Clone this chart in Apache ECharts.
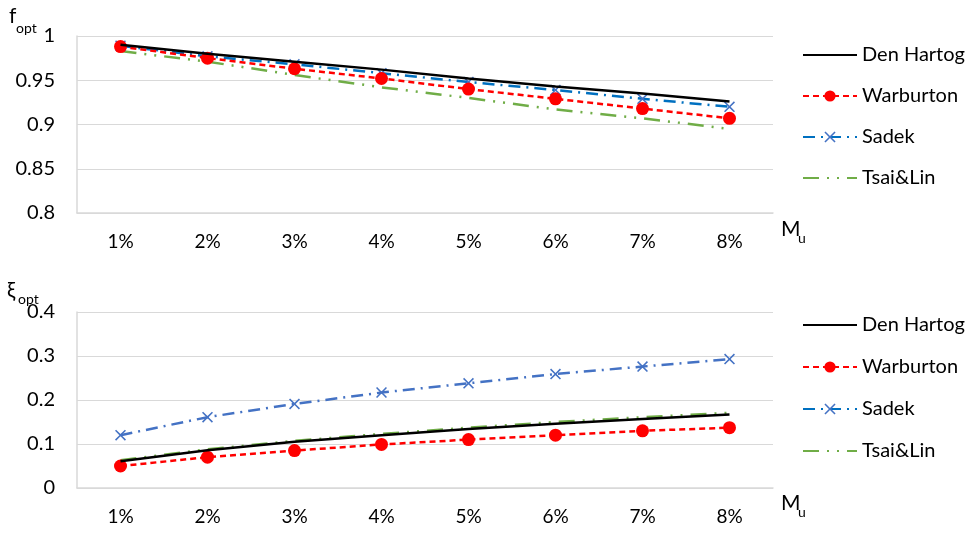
<!DOCTYPE html>
<html><head><meta charset="utf-8">
<script src="https://cdn.jsdelivr.net/npm/echarts@6/dist/echarts.min.js"></script>
<style>html,body{margin:0;padding:0;background:#fff}#c{width:970px;height:548px}</style>
</head><body><div id="c"></div>
<script>
const categories = ['1%','2%','3%','4%','5%','6%','7%','8%'];
const seriesNames = ['Den Hartog','Warburton','Sadek','Tsai&Lin'];
// top chart: f_opt
const fDenHartog = [0.990,0.980,0.971,0.962,0.952,0.943,0.935,0.926];
const fWarburton = [0.988,0.975,0.963,0.952,0.940,0.929,0.918,0.907];
const fSadek     = [0.989,0.977,0.968,0.958,0.948,0.939,0.929,0.920];
const fTsaiLin   = [0.983,0.971,0.956,0.942,0.930,0.917,0.907,0.895];
// bottom chart: xi_opt
const xDenHartog = [0.061,0.086,0.105,0.120,0.134,0.146,0.157,0.167];
const xWarburton = [0.050,0.070,0.085,0.099,0.110,0.120,0.130,0.137];
const xSadek     = [0.120,0.161,0.191,0.217,0.238,0.259,0.276,0.293];
const xTsaiLin   = [0.063,0.088,0.107,0.123,0.137,0.150,0.161,0.171];
const fTicks = {min:0.8, max:1, interval:0.05};
const xTicks = {min:0, max:0.4, interval:0.1};

const FONT = 'Lato';
const X_SYM = 'path://M0,1 L1,0 L5,4 L9,0 L10,1 L6,5 L10,9 L9,10 L5,6 L1,10 L0,9 L4,5 Z';
const NONE = 'rgba(0,0,0,0)';
const chart = echarts.init(document.getElementById('c'));

function mkSeries(names, data, gi, sadekLine) {
  return [
    {name:names[0], type:'line', xAxisIndex:gi, yAxisIndex:gi, data:data[0], symbol:'none',
     lineStyle:{color:'#000', width:2.5}, itemStyle:{color:NONE}, z:5},
    {name:names[1], type:'line', xAxisIndex:gi, yAxisIndex:gi, data:data[1], symbol:'circle', symbolSize:13,
     lineStyle:{color:'#FF0000', width:2.5, type:[6,4]}, itemStyle:{color:'#FF0000'}, z:4},
    {name:names[2], type:'line', xAxisIndex:gi, yAxisIndex:gi, data:data[2], symbol:X_SYM, symbolSize:11,
     lineStyle:{color:sadekLine, width:2.5, type:[12,6,2,6]}, itemStyle:{color:'#4472C4'}, z:3},
    {name:names[3], type:'line', xAxisIndex:gi, yAxisIndex:gi, data:data[3], symbol:'none',
     lineStyle:{color:'#70AD47', width:2.5, type:[16,8,2,8,2,8]}, itemStyle:{color:NONE}, z:2}
  ];
}

const axisCommonX = (gi) => ({type:'category', gridIndex:gi, data:categories, boundaryGap:true,
  axisLine:{lineStyle:{color:'#D9D9D9', width:1.5}}, axisTick:{show:false},
  axisLabel:{color:'#000', fontSize:19, fontFamily:FONT, margin:19}});
const axisCommonY = (gi, t) => ({type:'value', gridIndex:gi, min:t.min, max:t.max, interval:t.interval,
  axisLine:{show:true, lineStyle:{color:'#D9D9D9', width:1.5}}, axisTick:{show:false},
  splitLine:{lineStyle:{color:'#D9D9D9', width:1}},
  axisLabel:{color:'#000', fontSize:20, fontFamily:FONT, margin:22}});

const legendCommon = {orient:'vertical', left:797, itemWidth:54, itemHeight:14,
  textStyle:{color:'#000', fontSize:20, fontFamily:FONT, lineHeight:18}, data:seriesNames};

const txt = (x,y,t,s) => ({type:'text', left:x, top:y, style:{text:t, fontSize:s, fontFamily:FONT, fill:'#000'}});

chart.setOption({
  animation:false,
  backgroundColor:'#fff',
  grid:[{left:77, top:36, width:696, height:177}, {left:77, top:312, width:696, height:176}],
  xAxis:[axisCommonX(0), axisCommonX(1)],
  yAxis:[axisCommonY(0,fTicks), axisCommonY(1,xTicks)],
  legend:[Object.assign({top:40, itemGap:21}, legendCommon), Object.assign({top:310, itemGap:22}, legendCommon)],
  graphic:[
    txt(9,6,'f',21), txt(16,21,'opt',14),
    txt(7,280,'ξ',21), txt(18,292,'opt',14),
    txt(781,219,'M',21), txt(798,231,'u',14),
    txt(781,493,'M',21), txt(798,505,'u',14)
  ],
  series:[].concat(
    mkSeries(seriesNames,[fDenHartog,fWarburton,fSadek,fTsaiLin],0,'#0070C0'),
    mkSeries(seriesNames,[xDenHartog,xWarburton,xSadek,xTsaiLin],1,'#4472C4'))
});
</script></body></html>
